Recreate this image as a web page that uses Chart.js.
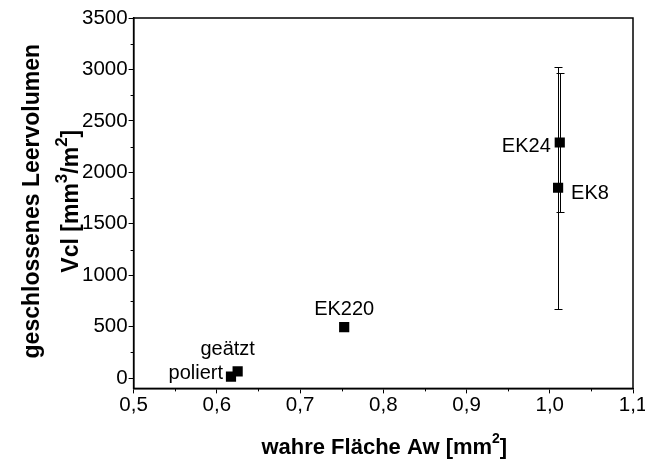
<!DOCTYPE html>
<html>
<head>
<meta charset="utf-8">
<script src="https://cdn.jsdelivr.net/npm/chart.js@4/dist/chart.umd.min.js"></script>
<style>
html,body{margin:0;padding:0;background:#fff;}
#wrap{width:645px;height:464px;position:relative;}
</style>
</head>
<body>
<div id="wrap"><canvas id="c"></canvas></div>
<script>
// ---- data ----
const sampleNames = ['poliert', 'geätzt', 'EK220', 'EK24', 'EK8'];
const trueArea    = [0.617, 0.625, 0.753, 1.012, 1.010];
const voidVolume  = [15, 65, 495, 2290, 1850];
const voidError   = [0, 0, 0, 680, 1175];
const xTicks = [0.5, 0.6, 0.7, 0.8, 0.9, 1.0, 1.1];
const yTicks = [0, 500, 1000, 1500, 2000, 2500, 3000, 3500];
// axis titles; segments flagged true are superscripts
const xTitle = [['wahre Fläche Aw [mm', false], ['2', true], [']', false]];
const yTitle1 = [['geschlossenes Leervolumen', false]];
const yTitle2 = [['Vcl [mm', false], ['3', true], ['/m', false], ['2', true], [']', false]];

const FONT = "'Liberation Sans', Arial, sans-serif";
const points = trueArea.map((x, i) => ({x: x, y: voidVolume[i]}));

// label placement (style): align and pixel offsets
const labelStyle = {
  'poliert': {align: 'right', dx: -8, dy: -3},
  'geätzt':  {align: 'center', dx: -10, dy: -22},
  'EK220':   {align: 'center', dx: 0, dy: -18},
  'EK24':    {align: 'right', dx: -9, dy: 4},
  'EK8':     {align: 'left', dx: 13, dy: 6}
};

function drawRich(ctx, segs, cx, cy, size, supScale) {
  const supSize = Math.round(size * supScale);
  let total = 0;
  const w = segs.map(([t, sup]) => {
    ctx.font = 'bold ' + (sup ? supSize : size) + 'px ' + FONT;
    const m = ctx.measureText(t).width;
    total += m;
    return m;
  });
  let x = cx - total / 2;
  ctx.textAlign = 'left';
  ctx.textBaseline = 'middle';
  segs.forEach(([t, sup], i) => {
    ctx.font = 'bold ' + (sup ? supSize : size) + 'px ' + FONT;
    ctx.fillText(t, x, sup ? cy - size * 0.42 : cy);
    x += w[i];
  });
}

const extras = {
  id: 'extras',
  beforeDatasetsDraw(chart) {
    const ctx = chart.ctx, xs = chart.scales.x, ys = chart.scales.y;
    ctx.save();
    ctx.strokeStyle = '#000';
    ctx.lineWidth = 1;
    points.forEach((p, i) => {
      const e = voidError[i];
      if (!e) return;
      const px = Math.round(xs.getPixelForValue(p.x)) + 0.5;
      const top = Math.round(ys.getPixelForValue(p.y + e)) + 0.5;
      const bot = Math.round(ys.getPixelForValue(p.y - e)) + 0.5;
      ctx.beginPath();
      ctx.moveTo(px, top); ctx.lineTo(px, bot);
      ctx.moveTo(px - 4, top); ctx.lineTo(px + 4, top);
      ctx.moveTo(px - 4, bot); ctx.lineTo(px + 4, bot);
      ctx.stroke();
    });
    ctx.restore();
  },
  afterDraw(chart) {
    const ctx = chart.ctx, a = chart.chartArea, xs = chart.scales.x, ys = chart.scales.y;
    ctx.save();
    ctx.strokeStyle = '#000';
    ctx.lineWidth = 1.5;
    ctx.strokeRect(a.left, a.top, a.right - a.left, a.bottom - a.top);
    ctx.lineWidth = 1;
    ctx.beginPath();
    for (let i = 0; i < xTicks.length - 1; i++) {
      const px = Math.round(xs.getPixelForValue((xTicks[i] + xTicks[i + 1]) / 2)) + 0.5;
      ctx.moveTo(px, a.bottom); ctx.lineTo(px, a.bottom + 3);
    }
    for (let i = 0; i < yTicks.length - 1; i++) {
      const py = Math.round(ys.getPixelForValue((yTicks[i] + yTicks[i + 1]) / 2)) + 0.5;
      ctx.moveTo(a.left, py); ctx.lineTo(a.left - 3, py);
    }
    ctx.stroke();
    // point labels
    ctx.fillStyle = '#000';
    ctx.font = '20px ' + FONT;
    ctx.textBaseline = 'middle';
    points.forEach((p, i) => {
      const s = labelStyle[sampleNames[i]];
      ctx.textAlign = s.align;
      ctx.fillText(sampleNames[i], xs.getPixelForValue(p.x) + s.dx, ys.getPixelForValue(p.y) + s.dy);
    });
    // axis titles
    const midX = (a.left + a.right) / 2 + 1;
    const midY = (a.top + a.bottom) / 2 - 2;
    drawRich(ctx, xTitle, midX, a.bottom + 60, 22, 0.62);
    ctx.save();
    ctx.translate(33, midY);
    ctx.rotate(-Math.PI / 2);
    drawRich(ctx, yTitle1, 0, 0, 23, 0.72);
    ctx.restore();
    ctx.save();
    ctx.translate(72, midY);
    ctx.rotate(-Math.PI / 2);
    drawRich(ctx, yTitle2, 0, 0, 23, 0.72);
    ctx.restore();
    ctx.restore();
  }
};

new Chart(document.getElementById('c'), {
  type: 'scatter',
  data: {
    datasets: [{
      data: points,
      pointStyle: 'rect',
      pointRadius: 7.2,
      pointHoverRadius: 7.2,
      backgroundColor: '#000',
      borderColor: '#000',
      borderWidth: 0
    }]
  },
  options: {
    responsive: true,
    maintainAspectRatio: false,
    animation: false,
    events: [],
    layout: {padding: {top: 18, right: 12, left: 81, bottom: 46}},
    plugins: {legend: {display: false}, tooltip: {enabled: false}},
    scales: {
      x: {
        type: 'linear', min: 0.5, max: 1.1,
        afterBuildTicks: s => { s.ticks = xTicks.map(v => ({value: v})); },
        afterFit: s => { s.paddingRight = 0; s.paddingLeft = 0; },
        border: {display: true, color: '#000', width: 1.5},
        grid: {display: true, drawOnChartArea: false, drawTicks: true, tickLength: 5, color: '#000', tickWidth: 1},
        ticks: {color: '#000', font: {family: FONT, size: 20.5}, padding: 0, maxRotation: 0,
                callback: v => v.toFixed(1).replace('.', ',')},
        title: {display: false}
      },
      y: {
        type: 'linear', min: -100, max: 3500,
        afterBuildTicks: s => { s.ticks = yTicks.map(v => ({value: v})); },
        afterFit: s => { s.paddingTop = 0; s.paddingBottom = 0; },
        border: {display: true, color: '#000', width: 1.5},
        grid: {display: true, drawOnChartArea: false, drawTicks: true, tickLength: 5, color: '#000', tickWidth: 1},
        ticks: {color: '#000', font: {family: FONT, size: 20.5}, padding: 1,
                callback: v => String(v)},
        title: {display: false}
      }
    }
  },
  plugins: [extras]
});
</script>
</body>
</html>
